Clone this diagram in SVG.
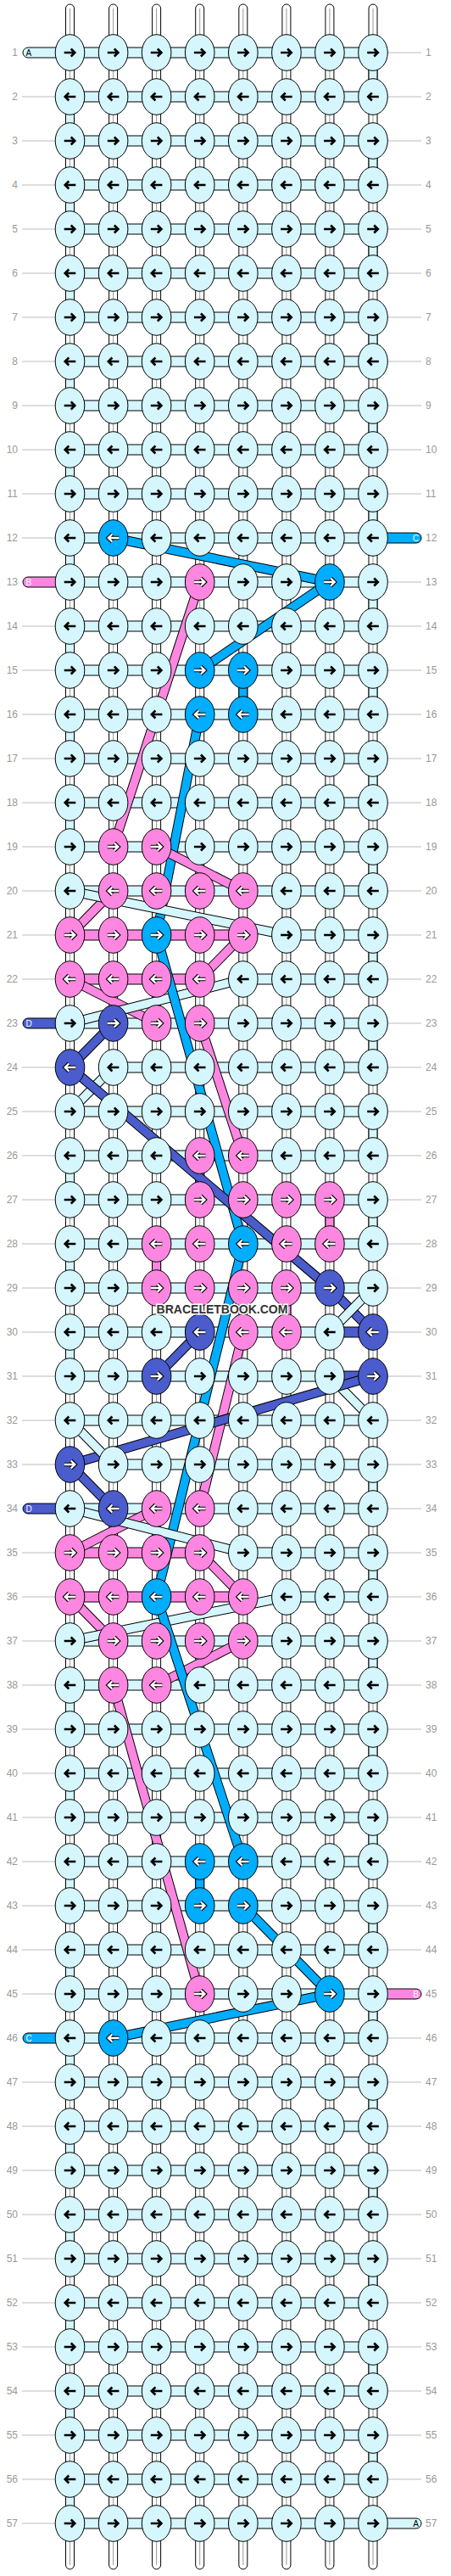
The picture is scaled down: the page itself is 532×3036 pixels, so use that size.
<svg xmlns="http://www.w3.org/2000/svg" width="532" height="3036" viewBox="0 0 532 3036">
<style>
.tube{fill:#fff;stroke:#000;stroke-width:1}
.tl{fill:none;stroke:#999;stroke-width:1}
.ol{stroke:#000;stroke-width:1}
.cy{fill:#d4f6fc}.pk{fill:#fd87e0}.bl{fill:#00adfe}.dk{fill:#4b5ccc}
.lo{fill:none;stroke:#000;stroke-width:11.5}
.lf{fill:none;stroke-width:9.5}
.sc{stroke:#d4f6fc}.sp{stroke:#fd87e0}.sb{stroke:#00adfe}.sd{stroke:#4b5ccc}
.ab{fill:none;stroke:#000;stroke-width:2.6}
.aw1{fill:none;stroke:#000;stroke-width:4.6}
.aw2{fill:none;stroke:#fff;stroke-width:2.4}
.gl{fill:none;stroke:#bbb;stroke-width:1}
.lb{font-family:"Liberation Sans",Arial,sans-serif;font-size:12px;fill:#999}
.le{text-anchor:end}
.st{font-family:"Liberation Sans",Arial,sans-serif;font-size:10px}
.wm{font-family:"Liberation Sans",Arial,sans-serif;font-weight:bold;font-size:14px;fill:#333;stroke:#fff;stroke-width:3;paint-order:stroke;text-anchor:middle}
</style>
<defs>
<path id="aR" d="M-6.8,0H5.6M1.2,-4.5L5.8,0L1.2,4.5"/>
<path id="aL" d="M6.8,0H-5.6M-1.2,-4.5L-5.8,0L-1.2,4.5"/>
<g id="cR"><ellipse class="ol cy" rx="17.3" ry="21.3"/><use href="#aR" class="ab"/></g>
<g id="cL"><ellipse class="ol cy" rx="17.3" ry="21.3"/><use href="#aL" class="ab"/></g>
<g id="pR"><ellipse class="ol pk" rx="17.3" ry="21.3"/><use href="#aR" class="aw1"/><use href="#aR" class="aw2"/></g>
<g id="pL"><ellipse class="ol pk" rx="17.3" ry="21.3"/><use href="#aL" class="aw1"/><use href="#aL" class="aw2"/></g>
<g id="bR"><ellipse class="ol bl" rx="17.3" ry="21.3"/><use href="#aR" class="aw1"/><use href="#aR" class="aw2"/></g>
<g id="bL"><ellipse class="ol bl" rx="17.3" ry="21.3"/><use href="#aL" class="aw1"/><use href="#aL" class="aw2"/></g>
<g id="dR"><ellipse class="ol dk" rx="17.3" ry="21.3"/><use href="#aR" class="aw1"/><use href="#aR" class="aw2"/></g>
<g id="dL"><ellipse class="ol dk" rx="17.3" ry="21.3"/><use href="#aL" class="aw1"/><use href="#aL" class="aw2"/></g>
</defs>
<rect width="532" height="3036" fill="#fff"/>
<g id="base-strands">
<rect class="tube" x="77.5" y="5" width="10" height="3023" rx="5"/>
<rect class="tube" x="128.6" y="5" width="10" height="3023" rx="5"/>
<rect class="tube" x="179.6" y="5" width="10" height="3023" rx="5"/>
<rect class="tube" x="230.7" y="5" width="10" height="3023" rx="5"/>
<rect class="tube" x="281.8" y="5" width="10" height="3023" rx="5"/>
<rect class="tube" x="332.9" y="5" width="10" height="3023" rx="5"/>
<rect class="tube" x="383.9" y="5" width="10" height="3023" rx="5"/>
<rect class="tube" x="435" y="5" width="10" height="3023" rx="5"/>
<path class="tl" d="M82.5,10V3023M133.6,10V3023M184.6,10V3023M235.7,10V3023M286.8,10V3023M337.9,10V3023M388.9,10V3023M440,10V3023"/>
</g>
<g id="row-lines">
<path class="gl" d="M26,114H65M26,166H65M26,218H65M26,270H65M26,322H65M26,374H65M26,426H65M26,478H65M26,530H65M26,582H65M26,634H65M26,738H65M26,790H65M26,842H65M26,894H65M26,946H65M26,998H65M26,1050H65M26,1102H65M26,1154H65M26,1258H65M26,1310H65M26,1362H65M26,1414H65M26,1466H65M26,1518H65M26,1570H65M26,1622H65M26,1674H65M26,1726H65M26,1830H65M26,1882H65M26,1934H65M26,1986H65M26,2038H65M26,2090H65M26,2142H65M26,2194H65M26,2246H65M26,2298H65M26,2350H65M26,2454H65M26,2506H65M26,2558H65M26,2610H65M26,2662H65M26,2714H65M26,2766H65M26,2818H65M26,2870H65M26,2922H65M26,2974H65"/>
<path class="gl" d="M458,62H497M458,114H497M458,166H497M458,218H497M458,270H497M458,322H497M458,374H497M458,426H497M458,478H497M458,530H497M458,582H497M458,686H497M458,738H497M458,790H497M458,842H497M458,894H497M458,946H497M458,998H497M458,1050H497M458,1102H497M458,1154H497M458,1206H497M458,1258H497M458,1310H497M458,1362H497M458,1414H497M458,1466H497M458,1518H497M458,1570H497M458,1622H497M458,1674H497M458,1726H497M458,1778H497M458,1830H497M458,1882H497M458,1934H497M458,1986H497M458,2038H497M458,2090H497M458,2142H497M458,2194H497M458,2246H497M458,2298H497M458,2402H497M458,2454H497M458,2506H497M458,2558H497M458,2610H497M458,2662H497M458,2714H497M458,2766H497M458,2818H497M458,2870H497M458,2922H497"/>
</g>
<g id="strand-ends">
<rect class="ol cy" x="27" y="56" width="50" height="12" rx="6"/>
<rect class="ol pk" x="27" y="680" width="50" height="12" rx="6"/>
<rect class="ol dk" x="27" y="1200" width="50" height="12" rx="6"/>
<rect class="ol dk" x="27" y="1772" width="50" height="12" rx="6"/>
<rect class="ol bl" x="27" y="2396" width="50" height="12" rx="6"/>
<rect class="ol bl" x="446" y="628" width="51" height="12" rx="6"/>
<rect class="ol pk" x="446" y="2344" width="51" height="12" rx="6"/>
<rect class="ol cy" x="446" y="2968" width="51" height="12" rx="6"/>
<text class="st" x="30.5" y="65.6" fill="#000">A</text>
<text class="st" x="30.5" y="689.6" fill="#fff">B</text>
<text class="st" x="30.5" y="1209.6" fill="#fff">D</text>
<text class="st" x="30.5" y="1781.6" fill="#fff">D</text>
<text class="st" x="30.5" y="2405.6" fill="#fff">C</text>
<text class="st le" x="494" y="637.6" fill="#fff">C</text>
<text class="st le" x="494" y="2353.6" fill="#fff">B</text>
<text class="st le" x="494" y="2977.6" fill="#000">A</text>
</g>
<g id="connectors">
<path class="ol cy" d="M82.5,56h357.5v12h-357.5zM82.5,108h357.5v12h-357.5zM82.5,160h357.5v12h-357.5zM82.5,212h357.5v12h-357.5zM82.5,264h357.5v12h-357.5zM82.5,316h357.5v12h-357.5zM82.5,368h357.5v12h-357.5zM82.5,420h357.5v12h-357.5zM82.5,472h357.5v12h-357.5zM82.5,524h357.5v12h-357.5zM82.5,576h357.5v12h-357.5zM82.5,628h357.5v12h-357.5zM82.5,680h357.5v12h-357.5zM82.5,732h357.5v12h-357.5zM82.5,784h357.5v12h-357.5zM82.5,836h357.5v12h-357.5zM82.5,888h357.5v12h-357.5zM82.5,940h357.5v12h-357.5zM82.5,992h357.5v12h-357.5zM82.5,1044h357.5v12h-357.5zM82.5,1200h357.5v12h-357.5zM82.5,1304h357.5v12h-357.5zM82.5,1356h357.5v12h-357.5zM82.5,1408h357.5v12h-357.5zM82.5,1460h357.5v12h-357.5zM82.5,1512h357.5v12h-357.5zM82.5,1668h357.5v12h-357.5zM82.5,1772h357.5v12h-357.5zM82.5,1928h357.5v12h-357.5zM82.5,1980h357.5v12h-357.5zM82.5,2032h357.5v12h-357.5zM82.5,2084h357.5v12h-357.5zM82.5,2136h357.5v12h-357.5zM82.5,2188h357.5v12h-357.5zM82.5,2240h357.5v12h-357.5zM82.5,2292h357.5v12h-357.5zM82.5,2344h357.5v12h-357.5zM82.5,2396h357.5v12h-357.5zM82.5,2448h357.5v12h-357.5zM82.5,2500h357.5v12h-357.5zM82.5,2552h357.5v12h-357.5zM82.5,2604h357.5v12h-357.5zM82.5,2656h357.5v12h-357.5zM82.5,2708h357.5v12h-357.5zM82.5,2760h357.5v12h-357.5zM82.5,2812h357.5v12h-357.5zM82.5,2864h357.5v12h-357.5zM82.5,2916h357.5v12h-357.5zM82.5,2968h357.5v12h-357.5z"/>
<path class="ol cy" d="M337.9,1096h102.1v12h-102.1zM286.8,1148h153.2v12h-153.2zM133.6,1252h306.4v12h-306.4zM82.5,1564h306.4v12h-306.4zM82.5,1616h306.4v12h-306.4zM133.6,1720h306.4v12h-306.4zM286.8,1824h153.2v12h-153.2zM337.9,1876h102.1v12h-102.1z"/>
<path class="ol pk" d="M82.5,1096h204.3v12h-204.3zM82.5,1148h153.2v12h-153.2zM82.5,1824h153.2v12h-153.2zM82.5,1876h204.3v12h-204.3z"/>
<path class="ol dk" d="M388.9,1564h51.1v12h-51.1zM388.9,1616h51.1v12h-51.1z"/>
<path class="ol cy" d="M435,78h10v20h-10zM435,182h10v20h-10zM435,286h10v20h-10zM435,390h10v20h-10zM435,494h10v20h-10zM435,598h10v20h-10zM435,702h10v20h-10zM435,806h10v20h-10zM435,910h10v20h-10zM435,1014h10v20h-10zM435,1118h10v20h-10zM435,1222h10v20h-10zM435,1326h10v20h-10zM435,1430h10v20h-10zM435,1742h10v20h-10zM435,1846h10v20h-10zM435,1950h10v20h-10zM435,2054h10v20h-10zM435,2158h10v20h-10zM435,2262h10v20h-10zM435,2366h10v20h-10zM435,2470h10v20h-10zM435,2574h10v20h-10zM435,2678h10v20h-10zM435,2782h10v20h-10zM435,2886h10v20h-10zM77.5,130h10v20h-10zM77.5,234h10v20h-10zM77.5,338h10v20h-10zM77.5,442h10v20h-10zM77.5,546h10v20h-10zM77.5,650h10v20h-10zM77.5,754h10v20h-10zM77.5,858h10v20h-10zM77.5,962h10v20h-10zM77.5,1378h10v20h-10zM77.5,1482h10v20h-10zM77.5,1586h10v20h-10zM77.5,2002h10v20h-10zM77.5,2106h10v20h-10zM77.5,2210h10v20h-10zM77.5,2314h10v20h-10zM77.5,2418h10v20h-10zM77.5,2522h10v20h-10zM77.5,2626h10v20h-10zM77.5,2730h10v20h-10zM77.5,2834h10v20h-10zM77.5,2938h10v20h-10z"/>
<path class="ol bl" d="M281.8,806h10v20h-10zM230.7,2210h10v20h-10z"/>
<path class="ol pk" d="M230.7,1378h10v20h-10zM383.9,1430h10v20h-10zM179.6,1482h10v20h-10zM332.9,1534h10v20h-10z"/>
<path class="lo" d="M133.6,634L388.9,686"/><path class="lf sb" d="M133.6,634L388.9,686"/>
<path class="lo" d="M388.9,686L235.7,790"/><path class="lf sb" d="M388.9,686L235.7,790"/>
<path class="lo" d="M235.7,686L133.6,998"/><path class="lf sp" d="M235.7,686L133.6,998"/>
<path class="lo" d="M235.7,842L184.6,1102"/><path class="lf sb" d="M235.7,842L184.6,1102"/>
<path class="lo" d="M184.6,998L286.8,1050"/><path class="lf sp" d="M184.6,998L286.8,1050"/>
<path class="lo" d="M133.6,1050L82.5,1102"/><path class="lf sp" d="M133.6,1050L82.5,1102"/>
<path class="lo" d="M82.5,1050L337.9,1102"/><path class="lf sc" d="M82.5,1050L337.9,1102"/>
<path class="lo" d="M286.8,1102L235.7,1154"/><path class="lf sp" d="M286.8,1102L235.7,1154"/>
<path class="lo" d="M82.5,1154L184.6,1206"/><path class="lf sp" d="M82.5,1154L184.6,1206"/>
<path class="lo" d="M286.8,1154L82.5,1206"/><path class="lf sc" d="M286.8,1154L82.5,1206"/>
<path class="lo" d="M235.7,1206L286.8,1362"/><path class="lf sp" d="M235.7,1206L286.8,1362"/>
<path class="lo" d="M184.6,1102L286.8,1466"/><path class="lf sb" d="M184.6,1102L286.8,1466"/>
<path class="lo" d="M133.6,1206L82.5,1258"/><path class="lf sd" d="M133.6,1206L82.5,1258"/>
<path class="lo" d="M133.6,1258L82.5,1310"/><path class="lf sc" d="M133.6,1258L82.5,1310"/>
<path class="lo" d="M82.5,1258L388.9,1518"/><path class="lf sd" d="M82.5,1258L388.9,1518"/>
<path class="lo" d="M388.9,1518L440,1570"/><path class="lf sd" d="M388.9,1518L440,1570"/>
<path class="lo" d="M440,1518L388.9,1570"/><path class="lf sc" d="M440,1518L388.9,1570"/>
<path class="lo" d="M235.7,1570L184.6,1622"/><path class="lf sd" d="M235.7,1570L184.6,1622"/>
<path class="lo" d="M286.8,1466L184.6,1882"/><path class="lf sb" d="M286.8,1466L184.6,1882"/>
<path class="lo" d="M286.8,1570L235.7,1778"/><path class="lf sp" d="M286.8,1570L235.7,1778"/>
<path class="lo" d="M388.9,1622L440,1674"/><path class="lf sc" d="M388.9,1622L440,1674"/>
<path class="lo" d="M440,1622L82.5,1726"/><path class="lf sd" d="M440,1622L82.5,1726"/>
<path class="lo" d="M82.5,1674L133.6,1726"/><path class="lf sc" d="M82.5,1674L133.6,1726"/>
<path class="lo" d="M82.5,1726L133.6,1778"/><path class="lf sd" d="M82.5,1726L133.6,1778"/>
<path class="lo" d="M184.6,1778L82.5,1830"/><path class="lf sp" d="M184.6,1778L82.5,1830"/>
<path class="lo" d="M82.5,1778L286.8,1830"/><path class="lf sc" d="M82.5,1778L286.8,1830"/>
<path class="lo" d="M235.7,1830L286.8,1882"/><path class="lf sp" d="M235.7,1830L286.8,1882"/>
<path class="lo" d="M82.5,1882L133.6,1934"/><path class="lf sp" d="M82.5,1882L133.6,1934"/>
<path class="lo" d="M337.9,1882L82.5,1934"/><path class="lf sc" d="M337.9,1882L82.5,1934"/>
<path class="lo" d="M286.8,1934L184.6,1986"/><path class="lf sp" d="M286.8,1934L184.6,1986"/>
<path class="lo" d="M184.6,1882L286.8,2194"/><path class="lf sb" d="M184.6,1882L286.8,2194"/>
<path class="lo" d="M133.6,1986L235.7,2350"/><path class="lf sp" d="M133.6,1986L235.7,2350"/>
<path class="lo" d="M286.8,2246L388.9,2350"/><path class="lf sb" d="M286.8,2246L388.9,2350"/>
<path class="lo" d="M388.9,2350L133.6,2402"/><path class="lf sb" d="M388.9,2350L133.6,2402"/>
</g>
<g id="knots">
<g id="k1-1"><use href="#cR" x="82.5" y="62"/></g><g id="k1-2"><use href="#cR" x="133.6" y="62"/></g><g id="k1-3"><use href="#cR" x="184.6" y="62"/></g><g id="k1-4"><use href="#cR" x="235.7" y="62"/></g><g id="k1-5"><use href="#cR" x="286.8" y="62"/></g><g id="k1-6"><use href="#cR" x="337.9" y="62"/></g><g id="k1-7"><use href="#cR" x="388.9" y="62"/></g><g id="k1-8"><use href="#cR" x="440" y="62"/></g>
<g id="k2-1"><use href="#cL" x="82.5" y="114"/></g><g id="k2-2"><use href="#cL" x="133.6" y="114"/></g><g id="k2-3"><use href="#cL" x="184.6" y="114"/></g><g id="k2-4"><use href="#cL" x="235.7" y="114"/></g><g id="k2-5"><use href="#cL" x="286.8" y="114"/></g><g id="k2-6"><use href="#cL" x="337.9" y="114"/></g><g id="k2-7"><use href="#cL" x="388.9" y="114"/></g><g id="k2-8"><use href="#cL" x="440" y="114"/></g>
<g id="k3-1"><use href="#cR" x="82.5" y="166"/></g><g id="k3-2"><use href="#cR" x="133.6" y="166"/></g><g id="k3-3"><use href="#cR" x="184.6" y="166"/></g><g id="k3-4"><use href="#cR" x="235.7" y="166"/></g><g id="k3-5"><use href="#cR" x="286.8" y="166"/></g><g id="k3-6"><use href="#cR" x="337.9" y="166"/></g><g id="k3-7"><use href="#cR" x="388.9" y="166"/></g><g id="k3-8"><use href="#cR" x="440" y="166"/></g>
<g id="k4-1"><use href="#cL" x="82.5" y="218"/></g><g id="k4-2"><use href="#cL" x="133.6" y="218"/></g><g id="k4-3"><use href="#cL" x="184.6" y="218"/></g><g id="k4-4"><use href="#cL" x="235.7" y="218"/></g><g id="k4-5"><use href="#cL" x="286.8" y="218"/></g><g id="k4-6"><use href="#cL" x="337.9" y="218"/></g><g id="k4-7"><use href="#cL" x="388.9" y="218"/></g><g id="k4-8"><use href="#cL" x="440" y="218"/></g>
<g id="k5-1"><use href="#cR" x="82.5" y="270"/></g><g id="k5-2"><use href="#cR" x="133.6" y="270"/></g><g id="k5-3"><use href="#cR" x="184.6" y="270"/></g><g id="k5-4"><use href="#cR" x="235.7" y="270"/></g><g id="k5-5"><use href="#cR" x="286.8" y="270"/></g><g id="k5-6"><use href="#cR" x="337.9" y="270"/></g><g id="k5-7"><use href="#cR" x="388.9" y="270"/></g><g id="k5-8"><use href="#cR" x="440" y="270"/></g>
<g id="k6-1"><use href="#cL" x="82.5" y="322"/></g><g id="k6-2"><use href="#cL" x="133.6" y="322"/></g><g id="k6-3"><use href="#cL" x="184.6" y="322"/></g><g id="k6-4"><use href="#cL" x="235.7" y="322"/></g><g id="k6-5"><use href="#cL" x="286.8" y="322"/></g><g id="k6-6"><use href="#cL" x="337.9" y="322"/></g><g id="k6-7"><use href="#cL" x="388.9" y="322"/></g><g id="k6-8"><use href="#cL" x="440" y="322"/></g>
<g id="k7-1"><use href="#cR" x="82.5" y="374"/></g><g id="k7-2"><use href="#cR" x="133.6" y="374"/></g><g id="k7-3"><use href="#cR" x="184.6" y="374"/></g><g id="k7-4"><use href="#cR" x="235.7" y="374"/></g><g id="k7-5"><use href="#cR" x="286.8" y="374"/></g><g id="k7-6"><use href="#cR" x="337.9" y="374"/></g><g id="k7-7"><use href="#cR" x="388.9" y="374"/></g><g id="k7-8"><use href="#cR" x="440" y="374"/></g>
<g id="k8-1"><use href="#cL" x="82.5" y="426"/></g><g id="k8-2"><use href="#cL" x="133.6" y="426"/></g><g id="k8-3"><use href="#cL" x="184.6" y="426"/></g><g id="k8-4"><use href="#cL" x="235.7" y="426"/></g><g id="k8-5"><use href="#cL" x="286.8" y="426"/></g><g id="k8-6"><use href="#cL" x="337.9" y="426"/></g><g id="k8-7"><use href="#cL" x="388.9" y="426"/></g><g id="k8-8"><use href="#cL" x="440" y="426"/></g>
<g id="k9-1"><use href="#cR" x="82.5" y="478"/></g><g id="k9-2"><use href="#cR" x="133.6" y="478"/></g><g id="k9-3"><use href="#cR" x="184.6" y="478"/></g><g id="k9-4"><use href="#cR" x="235.7" y="478"/></g><g id="k9-5"><use href="#cR" x="286.8" y="478"/></g><g id="k9-6"><use href="#cR" x="337.9" y="478"/></g><g id="k9-7"><use href="#cR" x="388.9" y="478"/></g><g id="k9-8"><use href="#cR" x="440" y="478"/></g>
<g id="k10-1"><use href="#cL" x="82.5" y="530"/></g><g id="k10-2"><use href="#cL" x="133.6" y="530"/></g><g id="k10-3"><use href="#cL" x="184.6" y="530"/></g><g id="k10-4"><use href="#cL" x="235.7" y="530"/></g><g id="k10-5"><use href="#cL" x="286.8" y="530"/></g><g id="k10-6"><use href="#cL" x="337.9" y="530"/></g><g id="k10-7"><use href="#cL" x="388.9" y="530"/></g><g id="k10-8"><use href="#cL" x="440" y="530"/></g>
<g id="k11-1"><use href="#cR" x="82.5" y="582"/></g><g id="k11-2"><use href="#cR" x="133.6" y="582"/></g><g id="k11-3"><use href="#cR" x="184.6" y="582"/></g><g id="k11-4"><use href="#cR" x="235.7" y="582"/></g><g id="k11-5"><use href="#cR" x="286.8" y="582"/></g><g id="k11-6"><use href="#cR" x="337.9" y="582"/></g><g id="k11-7"><use href="#cR" x="388.9" y="582"/></g><g id="k11-8"><use href="#cR" x="440" y="582"/></g>
<g id="k12-1"><use href="#cL" x="82.5" y="634"/></g><g id="k12-2"><use href="#bL" x="133.6" y="634"/></g><g id="k12-3"><use href="#cL" x="184.6" y="634"/></g><g id="k12-4"><use href="#cL" x="235.7" y="634"/></g><g id="k12-5"><use href="#cL" x="286.8" y="634"/></g><g id="k12-6"><use href="#cL" x="337.9" y="634"/></g><g id="k12-7"><use href="#cL" x="388.9" y="634"/></g><g id="k12-8"><use href="#cL" x="440" y="634"/></g>
<g id="k13-1"><use href="#cR" x="82.5" y="686"/></g><g id="k13-2"><use href="#cR" x="133.6" y="686"/></g><g id="k13-3"><use href="#cR" x="184.6" y="686"/></g><g id="k13-4"><use href="#pR" x="235.7" y="686"/></g><g id="k13-5"><use href="#cR" x="286.8" y="686"/></g><g id="k13-6"><use href="#cR" x="337.9" y="686"/></g><g id="k13-7"><use href="#bR" x="388.9" y="686"/></g><g id="k13-8"><use href="#cR" x="440" y="686"/></g>
<g id="k14-1"><use href="#cL" x="82.5" y="738"/></g><g id="k14-2"><use href="#cL" x="133.6" y="738"/></g><g id="k14-3"><use href="#cL" x="184.6" y="738"/></g><g id="k14-4"><use href="#cL" x="235.7" y="738"/></g><g id="k14-5"><use href="#cL" x="286.8" y="738"/></g><g id="k14-6"><use href="#cL" x="337.9" y="738"/></g><g id="k14-7"><use href="#cL" x="388.9" y="738"/></g><g id="k14-8"><use href="#cL" x="440" y="738"/></g>
<g id="k15-1"><use href="#cR" x="82.5" y="790"/></g><g id="k15-2"><use href="#cR" x="133.6" y="790"/></g><g id="k15-3"><use href="#cR" x="184.6" y="790"/></g><g id="k15-4"><use href="#bR" x="235.7" y="790"/></g><g id="k15-5"><use href="#bR" x="286.8" y="790"/></g><g id="k15-6"><use href="#cR" x="337.9" y="790"/></g><g id="k15-7"><use href="#cR" x="388.9" y="790"/></g><g id="k15-8"><use href="#cR" x="440" y="790"/></g>
<g id="k16-1"><use href="#cL" x="82.5" y="842"/></g><g id="k16-2"><use href="#cL" x="133.6" y="842"/></g><g id="k16-3"><use href="#cL" x="184.6" y="842"/></g><g id="k16-4"><use href="#bL" x="235.7" y="842"/></g><g id="k16-5"><use href="#bL" x="286.8" y="842"/></g><g id="k16-6"><use href="#cL" x="337.9" y="842"/></g><g id="k16-7"><use href="#cL" x="388.9" y="842"/></g><g id="k16-8"><use href="#cL" x="440" y="842"/></g>
<g id="k17-1"><use href="#cR" x="82.5" y="894"/></g><g id="k17-2"><use href="#cR" x="133.6" y="894"/></g><g id="k17-3"><use href="#cR" x="184.6" y="894"/></g><g id="k17-4"><use href="#cR" x="235.7" y="894"/></g><g id="k17-5"><use href="#cR" x="286.8" y="894"/></g><g id="k17-6"><use href="#cR" x="337.9" y="894"/></g><g id="k17-7"><use href="#cR" x="388.9" y="894"/></g><g id="k17-8"><use href="#cR" x="440" y="894"/></g>
<g id="k18-1"><use href="#cL" x="82.5" y="946"/></g><g id="k18-2"><use href="#cL" x="133.6" y="946"/></g><g id="k18-3"><use href="#cL" x="184.6" y="946"/></g><g id="k18-4"><use href="#cL" x="235.7" y="946"/></g><g id="k18-5"><use href="#cL" x="286.8" y="946"/></g><g id="k18-6"><use href="#cL" x="337.9" y="946"/></g><g id="k18-7"><use href="#cL" x="388.9" y="946"/></g><g id="k18-8"><use href="#cL" x="440" y="946"/></g>
<g id="k19-1"><use href="#cR" x="82.5" y="998"/></g><g id="k19-2"><use href="#pR" x="133.6" y="998"/></g><g id="k19-3"><use href="#pR" x="184.6" y="998"/></g><g id="k19-4"><use href="#cR" x="235.7" y="998"/></g><g id="k19-5"><use href="#cR" x="286.8" y="998"/></g><g id="k19-6"><use href="#cR" x="337.9" y="998"/></g><g id="k19-7"><use href="#cR" x="388.9" y="998"/></g><g id="k19-8"><use href="#cR" x="440" y="998"/></g>
<g id="k20-1"><use href="#cL" x="82.5" y="1050"/></g><g id="k20-2"><use href="#pL" x="133.6" y="1050"/></g><g id="k20-3"><use href="#pL" x="184.6" y="1050"/></g><g id="k20-4"><use href="#pL" x="235.7" y="1050"/></g><g id="k20-5"><use href="#pL" x="286.8" y="1050"/></g><g id="k20-6"><use href="#cL" x="337.9" y="1050"/></g><g id="k20-7"><use href="#cL" x="388.9" y="1050"/></g><g id="k20-8"><use href="#cL" x="440" y="1050"/></g>
<g id="k21-1"><use href="#pR" x="82.5" y="1102"/></g><g id="k21-2"><use href="#pR" x="133.6" y="1102"/></g><g id="k21-3"><use href="#bR" x="184.6" y="1102"/></g><g id="k21-4"><use href="#pR" x="235.7" y="1102"/></g><g id="k21-5"><use href="#pR" x="286.8" y="1102"/></g><g id="k21-6"><use href="#cR" x="337.9" y="1102"/></g><g id="k21-7"><use href="#cR" x="388.9" y="1102"/></g><g id="k21-8"><use href="#cR" x="440" y="1102"/></g>
<g id="k22-1"><use href="#pL" x="82.5" y="1154"/></g><g id="k22-2"><use href="#pL" x="133.6" y="1154"/></g><g id="k22-3"><use href="#pL" x="184.6" y="1154"/></g><g id="k22-4"><use href="#pL" x="235.7" y="1154"/></g><g id="k22-5"><use href="#cL" x="286.8" y="1154"/></g><g id="k22-6"><use href="#cL" x="337.9" y="1154"/></g><g id="k22-7"><use href="#cL" x="388.9" y="1154"/></g><g id="k22-8"><use href="#cL" x="440" y="1154"/></g>
<g id="k23-1"><use href="#cR" x="82.5" y="1206"/></g><g id="k23-2"><use href="#dR" x="133.6" y="1206"/></g><g id="k23-3"><use href="#pR" x="184.6" y="1206"/></g><g id="k23-4"><use href="#pR" x="235.7" y="1206"/></g><g id="k23-5"><use href="#cR" x="286.8" y="1206"/></g><g id="k23-6"><use href="#cR" x="337.9" y="1206"/></g><g id="k23-7"><use href="#cR" x="388.9" y="1206"/></g><g id="k23-8"><use href="#cR" x="440" y="1206"/></g>
<g id="k24-1"><use href="#dL" x="82.5" y="1258"/></g><g id="k24-2"><use href="#cL" x="133.6" y="1258"/></g><g id="k24-3"><use href="#cL" x="184.6" y="1258"/></g><g id="k24-4"><use href="#cL" x="235.7" y="1258"/></g><g id="k24-5"><use href="#cL" x="286.8" y="1258"/></g><g id="k24-6"><use href="#cL" x="337.9" y="1258"/></g><g id="k24-7"><use href="#cL" x="388.9" y="1258"/></g><g id="k24-8"><use href="#cL" x="440" y="1258"/></g>
<g id="k25-1"><use href="#cR" x="82.5" y="1310"/></g><g id="k25-2"><use href="#cR" x="133.6" y="1310"/></g><g id="k25-3"><use href="#cR" x="184.6" y="1310"/></g><g id="k25-4"><use href="#cR" x="235.7" y="1310"/></g><g id="k25-5"><use href="#cR" x="286.8" y="1310"/></g><g id="k25-6"><use href="#cR" x="337.9" y="1310"/></g><g id="k25-7"><use href="#cR" x="388.9" y="1310"/></g><g id="k25-8"><use href="#cR" x="440" y="1310"/></g>
<g id="k26-1"><use href="#cL" x="82.5" y="1362"/></g><g id="k26-2"><use href="#cL" x="133.6" y="1362"/></g><g id="k26-3"><use href="#cL" x="184.6" y="1362"/></g><g id="k26-4"><use href="#pL" x="235.7" y="1362"/></g><g id="k26-5"><use href="#pL" x="286.8" y="1362"/></g><g id="k26-6"><use href="#cL" x="337.9" y="1362"/></g><g id="k26-7"><use href="#cL" x="388.9" y="1362"/></g><g id="k26-8"><use href="#cL" x="440" y="1362"/></g>
<g id="k27-1"><use href="#cR" x="82.5" y="1414"/></g><g id="k27-2"><use href="#cR" x="133.6" y="1414"/></g><g id="k27-3"><use href="#cR" x="184.6" y="1414"/></g><g id="k27-4"><use href="#pR" x="235.7" y="1414"/></g><g id="k27-5"><use href="#pR" x="286.8" y="1414"/></g><g id="k27-6"><use href="#pR" x="337.9" y="1414"/></g><g id="k27-7"><use href="#pR" x="388.9" y="1414"/></g><g id="k27-8"><use href="#cR" x="440" y="1414"/></g>
<g id="k28-1"><use href="#cL" x="82.5" y="1466"/></g><g id="k28-2"><use href="#cL" x="133.6" y="1466"/></g><g id="k28-3"><use href="#pL" x="184.6" y="1466"/></g><g id="k28-4"><use href="#pL" x="235.7" y="1466"/></g><g id="k28-5"><use href="#bL" x="286.8" y="1466"/></g><g id="k28-6"><use href="#pL" x="337.9" y="1466"/></g><g id="k28-7"><use href="#pL" x="388.9" y="1466"/></g><g id="k28-8"><use href="#cL" x="440" y="1466"/></g>
<g id="k29-1"><use href="#cR" x="82.5" y="1518"/></g><g id="k29-2"><use href="#cR" x="133.6" y="1518"/></g><g id="k29-3"><use href="#pR" x="184.6" y="1518"/></g><g id="k29-4"><use href="#pR" x="235.7" y="1518"/></g><g id="k29-5"><use href="#pR" x="286.8" y="1518"/></g><g id="k29-6"><use href="#pR" x="337.9" y="1518"/></g><g id="k29-7"><use href="#dR" x="388.9" y="1518"/></g><g id="k29-8"><use href="#cR" x="440" y="1518"/></g>
<g id="k30-1"><use href="#cL" x="82.5" y="1570"/></g><g id="k30-2"><use href="#cL" x="133.6" y="1570"/></g><g id="k30-3"><use href="#cL" x="184.6" y="1570"/></g><g id="k30-4"><use href="#dL" x="235.7" y="1570"/></g><g id="k30-5"><use href="#pL" x="286.8" y="1570"/></g><g id="k30-6"><use href="#pL" x="337.9" y="1570"/></g><g id="k30-7"><use href="#cL" x="388.9" y="1570"/></g><g id="k30-8"><use href="#dL" x="440" y="1570"/></g>
<g id="k31-1"><use href="#cR" x="82.5" y="1622"/></g><g id="k31-2"><use href="#cR" x="133.6" y="1622"/></g><g id="k31-3"><use href="#dR" x="184.6" y="1622"/></g><g id="k31-4"><use href="#cR" x="235.7" y="1622"/></g><g id="k31-5"><use href="#cR" x="286.8" y="1622"/></g><g id="k31-6"><use href="#cR" x="337.9" y="1622"/></g><g id="k31-7"><use href="#cR" x="388.9" y="1622"/></g><g id="k31-8"><use href="#dR" x="440" y="1622"/></g>
<g id="k32-1"><use href="#cL" x="82.5" y="1674"/></g><g id="k32-2"><use href="#cL" x="133.6" y="1674"/></g><g id="k32-3"><use href="#cL" x="184.6" y="1674"/></g><g id="k32-4"><use href="#cL" x="235.7" y="1674"/></g><g id="k32-5"><use href="#cL" x="286.8" y="1674"/></g><g id="k32-6"><use href="#cL" x="337.9" y="1674"/></g><g id="k32-7"><use href="#cL" x="388.9" y="1674"/></g><g id="k32-8"><use href="#cL" x="440" y="1674"/></g>
<g id="k33-1"><use href="#dR" x="82.5" y="1726"/></g><g id="k33-2"><use href="#cR" x="133.6" y="1726"/></g><g id="k33-3"><use href="#cR" x="184.6" y="1726"/></g><g id="k33-4"><use href="#cR" x="235.7" y="1726"/></g><g id="k33-5"><use href="#cR" x="286.8" y="1726"/></g><g id="k33-6"><use href="#cR" x="337.9" y="1726"/></g><g id="k33-7"><use href="#cR" x="388.9" y="1726"/></g><g id="k33-8"><use href="#cR" x="440" y="1726"/></g>
<g id="k34-1"><use href="#cL" x="82.5" y="1778"/></g><g id="k34-2"><use href="#dL" x="133.6" y="1778"/></g><g id="k34-3"><use href="#pL" x="184.6" y="1778"/></g><g id="k34-4"><use href="#pL" x="235.7" y="1778"/></g><g id="k34-5"><use href="#cL" x="286.8" y="1778"/></g><g id="k34-6"><use href="#cL" x="337.9" y="1778"/></g><g id="k34-7"><use href="#cL" x="388.9" y="1778"/></g><g id="k34-8"><use href="#cL" x="440" y="1778"/></g>
<g id="k35-1"><use href="#pR" x="82.5" y="1830"/></g><g id="k35-2"><use href="#pR" x="133.6" y="1830"/></g><g id="k35-3"><use href="#pR" x="184.6" y="1830"/></g><g id="k35-4"><use href="#pR" x="235.7" y="1830"/></g><g id="k35-5"><use href="#cR" x="286.8" y="1830"/></g><g id="k35-6"><use href="#cR" x="337.9" y="1830"/></g><g id="k35-7"><use href="#cR" x="388.9" y="1830"/></g><g id="k35-8"><use href="#cR" x="440" y="1830"/></g>
<g id="k36-1"><use href="#pL" x="82.5" y="1882"/></g><g id="k36-2"><use href="#pL" x="133.6" y="1882"/></g><g id="k36-3"><use href="#bL" x="184.6" y="1882"/></g><g id="k36-4"><use href="#pL" x="235.7" y="1882"/></g><g id="k36-5"><use href="#pL" x="286.8" y="1882"/></g><g id="k36-6"><use href="#cL" x="337.9" y="1882"/></g><g id="k36-7"><use href="#cL" x="388.9" y="1882"/></g><g id="k36-8"><use href="#cL" x="440" y="1882"/></g>
<g id="k37-1"><use href="#cR" x="82.5" y="1934"/></g><g id="k37-2"><use href="#pR" x="133.6" y="1934"/></g><g id="k37-3"><use href="#pR" x="184.6" y="1934"/></g><g id="k37-4"><use href="#pR" x="235.7" y="1934"/></g><g id="k37-5"><use href="#pR" x="286.8" y="1934"/></g><g id="k37-6"><use href="#cR" x="337.9" y="1934"/></g><g id="k37-7"><use href="#cR" x="388.9" y="1934"/></g><g id="k37-8"><use href="#cR" x="440" y="1934"/></g>
<g id="k38-1"><use href="#cL" x="82.5" y="1986"/></g><g id="k38-2"><use href="#pL" x="133.6" y="1986"/></g><g id="k38-3"><use href="#pL" x="184.6" y="1986"/></g><g id="k38-4"><use href="#cL" x="235.7" y="1986"/></g><g id="k38-5"><use href="#cL" x="286.8" y="1986"/></g><g id="k38-6"><use href="#cL" x="337.9" y="1986"/></g><g id="k38-7"><use href="#cL" x="388.9" y="1986"/></g><g id="k38-8"><use href="#cL" x="440" y="1986"/></g>
<g id="k39-1"><use href="#cR" x="82.5" y="2038"/></g><g id="k39-2"><use href="#cR" x="133.6" y="2038"/></g><g id="k39-3"><use href="#cR" x="184.6" y="2038"/></g><g id="k39-4"><use href="#cR" x="235.7" y="2038"/></g><g id="k39-5"><use href="#cR" x="286.8" y="2038"/></g><g id="k39-6"><use href="#cR" x="337.9" y="2038"/></g><g id="k39-7"><use href="#cR" x="388.9" y="2038"/></g><g id="k39-8"><use href="#cR" x="440" y="2038"/></g>
<g id="k40-1"><use href="#cL" x="82.5" y="2090"/></g><g id="k40-2"><use href="#cL" x="133.6" y="2090"/></g><g id="k40-3"><use href="#cL" x="184.6" y="2090"/></g><g id="k40-4"><use href="#cL" x="235.7" y="2090"/></g><g id="k40-5"><use href="#cL" x="286.8" y="2090"/></g><g id="k40-6"><use href="#cL" x="337.9" y="2090"/></g><g id="k40-7"><use href="#cL" x="388.9" y="2090"/></g><g id="k40-8"><use href="#cL" x="440" y="2090"/></g>
<g id="k41-1"><use href="#cR" x="82.5" y="2142"/></g><g id="k41-2"><use href="#cR" x="133.6" y="2142"/></g><g id="k41-3"><use href="#cR" x="184.6" y="2142"/></g><g id="k41-4"><use href="#cR" x="235.7" y="2142"/></g><g id="k41-5"><use href="#cR" x="286.8" y="2142"/></g><g id="k41-6"><use href="#cR" x="337.9" y="2142"/></g><g id="k41-7"><use href="#cR" x="388.9" y="2142"/></g><g id="k41-8"><use href="#cR" x="440" y="2142"/></g>
<g id="k42-1"><use href="#cL" x="82.5" y="2194"/></g><g id="k42-2"><use href="#cL" x="133.6" y="2194"/></g><g id="k42-3"><use href="#cL" x="184.6" y="2194"/></g><g id="k42-4"><use href="#bL" x="235.7" y="2194"/></g><g id="k42-5"><use href="#bL" x="286.8" y="2194"/></g><g id="k42-6"><use href="#cL" x="337.9" y="2194"/></g><g id="k42-7"><use href="#cL" x="388.9" y="2194"/></g><g id="k42-8"><use href="#cL" x="440" y="2194"/></g>
<g id="k43-1"><use href="#cR" x="82.5" y="2246"/></g><g id="k43-2"><use href="#cR" x="133.6" y="2246"/></g><g id="k43-3"><use href="#cR" x="184.6" y="2246"/></g><g id="k43-4"><use href="#bR" x="235.7" y="2246"/></g><g id="k43-5"><use href="#bR" x="286.8" y="2246"/></g><g id="k43-6"><use href="#cR" x="337.9" y="2246"/></g><g id="k43-7"><use href="#cR" x="388.9" y="2246"/></g><g id="k43-8"><use href="#cR" x="440" y="2246"/></g>
<g id="k44-1"><use href="#cL" x="82.5" y="2298"/></g><g id="k44-2"><use href="#cL" x="133.6" y="2298"/></g><g id="k44-3"><use href="#cL" x="184.6" y="2298"/></g><g id="k44-4"><use href="#cL" x="235.7" y="2298"/></g><g id="k44-5"><use href="#cL" x="286.8" y="2298"/></g><g id="k44-6"><use href="#cL" x="337.9" y="2298"/></g><g id="k44-7"><use href="#cL" x="388.9" y="2298"/></g><g id="k44-8"><use href="#cL" x="440" y="2298"/></g>
<g id="k45-1"><use href="#cR" x="82.5" y="2350"/></g><g id="k45-2"><use href="#cR" x="133.6" y="2350"/></g><g id="k45-3"><use href="#cR" x="184.6" y="2350"/></g><g id="k45-4"><use href="#pR" x="235.7" y="2350"/></g><g id="k45-5"><use href="#cR" x="286.8" y="2350"/></g><g id="k45-6"><use href="#cR" x="337.9" y="2350"/></g><g id="k45-7"><use href="#bR" x="388.9" y="2350"/></g><g id="k45-8"><use href="#cR" x="440" y="2350"/></g>
<g id="k46-1"><use href="#cL" x="82.5" y="2402"/></g><g id="k46-2"><use href="#bL" x="133.6" y="2402"/></g><g id="k46-3"><use href="#cL" x="184.6" y="2402"/></g><g id="k46-4"><use href="#cL" x="235.7" y="2402"/></g><g id="k46-5"><use href="#cL" x="286.8" y="2402"/></g><g id="k46-6"><use href="#cL" x="337.9" y="2402"/></g><g id="k46-7"><use href="#cL" x="388.9" y="2402"/></g><g id="k46-8"><use href="#cL" x="440" y="2402"/></g>
<g id="k47-1"><use href="#cR" x="82.5" y="2454"/></g><g id="k47-2"><use href="#cR" x="133.6" y="2454"/></g><g id="k47-3"><use href="#cR" x="184.6" y="2454"/></g><g id="k47-4"><use href="#cR" x="235.7" y="2454"/></g><g id="k47-5"><use href="#cR" x="286.8" y="2454"/></g><g id="k47-6"><use href="#cR" x="337.9" y="2454"/></g><g id="k47-7"><use href="#cR" x="388.9" y="2454"/></g><g id="k47-8"><use href="#cR" x="440" y="2454"/></g>
<g id="k48-1"><use href="#cL" x="82.5" y="2506"/></g><g id="k48-2"><use href="#cL" x="133.6" y="2506"/></g><g id="k48-3"><use href="#cL" x="184.6" y="2506"/></g><g id="k48-4"><use href="#cL" x="235.7" y="2506"/></g><g id="k48-5"><use href="#cL" x="286.8" y="2506"/></g><g id="k48-6"><use href="#cL" x="337.9" y="2506"/></g><g id="k48-7"><use href="#cL" x="388.9" y="2506"/></g><g id="k48-8"><use href="#cL" x="440" y="2506"/></g>
<g id="k49-1"><use href="#cR" x="82.5" y="2558"/></g><g id="k49-2"><use href="#cR" x="133.6" y="2558"/></g><g id="k49-3"><use href="#cR" x="184.6" y="2558"/></g><g id="k49-4"><use href="#cR" x="235.7" y="2558"/></g><g id="k49-5"><use href="#cR" x="286.8" y="2558"/></g><g id="k49-6"><use href="#cR" x="337.9" y="2558"/></g><g id="k49-7"><use href="#cR" x="388.9" y="2558"/></g><g id="k49-8"><use href="#cR" x="440" y="2558"/></g>
<g id="k50-1"><use href="#cL" x="82.5" y="2610"/></g><g id="k50-2"><use href="#cL" x="133.6" y="2610"/></g><g id="k50-3"><use href="#cL" x="184.6" y="2610"/></g><g id="k50-4"><use href="#cL" x="235.7" y="2610"/></g><g id="k50-5"><use href="#cL" x="286.8" y="2610"/></g><g id="k50-6"><use href="#cL" x="337.9" y="2610"/></g><g id="k50-7"><use href="#cL" x="388.9" y="2610"/></g><g id="k50-8"><use href="#cL" x="440" y="2610"/></g>
<g id="k51-1"><use href="#cR" x="82.5" y="2662"/></g><g id="k51-2"><use href="#cR" x="133.6" y="2662"/></g><g id="k51-3"><use href="#cR" x="184.6" y="2662"/></g><g id="k51-4"><use href="#cR" x="235.7" y="2662"/></g><g id="k51-5"><use href="#cR" x="286.8" y="2662"/></g><g id="k51-6"><use href="#cR" x="337.9" y="2662"/></g><g id="k51-7"><use href="#cR" x="388.9" y="2662"/></g><g id="k51-8"><use href="#cR" x="440" y="2662"/></g>
<g id="k52-1"><use href="#cL" x="82.5" y="2714"/></g><g id="k52-2"><use href="#cL" x="133.6" y="2714"/></g><g id="k52-3"><use href="#cL" x="184.6" y="2714"/></g><g id="k52-4"><use href="#cL" x="235.7" y="2714"/></g><g id="k52-5"><use href="#cL" x="286.8" y="2714"/></g><g id="k52-6"><use href="#cL" x="337.9" y="2714"/></g><g id="k52-7"><use href="#cL" x="388.9" y="2714"/></g><g id="k52-8"><use href="#cL" x="440" y="2714"/></g>
<g id="k53-1"><use href="#cR" x="82.5" y="2766"/></g><g id="k53-2"><use href="#cR" x="133.6" y="2766"/></g><g id="k53-3"><use href="#cR" x="184.6" y="2766"/></g><g id="k53-4"><use href="#cR" x="235.7" y="2766"/></g><g id="k53-5"><use href="#cR" x="286.8" y="2766"/></g><g id="k53-6"><use href="#cR" x="337.9" y="2766"/></g><g id="k53-7"><use href="#cR" x="388.9" y="2766"/></g><g id="k53-8"><use href="#cR" x="440" y="2766"/></g>
<g id="k54-1"><use href="#cL" x="82.5" y="2818"/></g><g id="k54-2"><use href="#cL" x="133.6" y="2818"/></g><g id="k54-3"><use href="#cL" x="184.6" y="2818"/></g><g id="k54-4"><use href="#cL" x="235.7" y="2818"/></g><g id="k54-5"><use href="#cL" x="286.8" y="2818"/></g><g id="k54-6"><use href="#cL" x="337.9" y="2818"/></g><g id="k54-7"><use href="#cL" x="388.9" y="2818"/></g><g id="k54-8"><use href="#cL" x="440" y="2818"/></g>
<g id="k55-1"><use href="#cR" x="82.5" y="2870"/></g><g id="k55-2"><use href="#cR" x="133.6" y="2870"/></g><g id="k55-3"><use href="#cR" x="184.6" y="2870"/></g><g id="k55-4"><use href="#cR" x="235.7" y="2870"/></g><g id="k55-5"><use href="#cR" x="286.8" y="2870"/></g><g id="k55-6"><use href="#cR" x="337.9" y="2870"/></g><g id="k55-7"><use href="#cR" x="388.9" y="2870"/></g><g id="k55-8"><use href="#cR" x="440" y="2870"/></g>
<g id="k56-1"><use href="#cL" x="82.5" y="2922"/></g><g id="k56-2"><use href="#cL" x="133.6" y="2922"/></g><g id="k56-3"><use href="#cL" x="184.6" y="2922"/></g><g id="k56-4"><use href="#cL" x="235.7" y="2922"/></g><g id="k56-5"><use href="#cL" x="286.8" y="2922"/></g><g id="k56-6"><use href="#cL" x="337.9" y="2922"/></g><g id="k56-7"><use href="#cL" x="388.9" y="2922"/></g><g id="k56-8"><use href="#cL" x="440" y="2922"/></g>
<g id="k57-1"><use href="#cR" x="82.5" y="2974"/></g><g id="k57-2"><use href="#cR" x="133.6" y="2974"/></g><g id="k57-3"><use href="#cR" x="184.6" y="2974"/></g><g id="k57-4"><use href="#cR" x="235.7" y="2974"/></g><g id="k57-5"><use href="#cR" x="286.8" y="2974"/></g><g id="k57-6"><use href="#cR" x="337.9" y="2974"/></g><g id="k57-7"><use href="#cR" x="388.9" y="2974"/></g><g id="k57-8"><use href="#cR" x="440" y="2974"/></g>
</g>
<g id="row-numbers" class="lb">
<text class="le" x="21" y="66.3">1</text><text class="le" x="21" y="118.3">2</text><text class="le" x="21" y="170.3">3</text><text class="le" x="21" y="222.3">4</text><text class="le" x="21" y="274.3">5</text><text class="le" x="21" y="326.3">6</text><text class="le" x="21" y="378.3">7</text><text class="le" x="21" y="430.3">8</text><text class="le" x="21" y="482.3">9</text><text class="le" x="21" y="534.3">10</text><text class="le" x="21" y="586.3">11</text><text class="le" x="21" y="638.3">12</text><text class="le" x="21" y="690.3">13</text><text class="le" x="21" y="742.3">14</text><text class="le" x="21" y="794.3">15</text><text class="le" x="21" y="846.3">16</text><text class="le" x="21" y="898.3">17</text><text class="le" x="21" y="950.3">18</text><text class="le" x="21" y="1002.3">19</text><text class="le" x="21" y="1054.3">20</text><text class="le" x="21" y="1106.3">21</text><text class="le" x="21" y="1158.3">22</text><text class="le" x="21" y="1210.3">23</text><text class="le" x="21" y="1262.3">24</text><text class="le" x="21" y="1314.3">25</text><text class="le" x="21" y="1366.3">26</text><text class="le" x="21" y="1418.3">27</text><text class="le" x="21" y="1470.3">28</text><text class="le" x="21" y="1522.3">29</text><text class="le" x="21" y="1574.3">30</text><text class="le" x="21" y="1626.3">31</text><text class="le" x="21" y="1678.3">32</text><text class="le" x="21" y="1730.3">33</text><text class="le" x="21" y="1782.3">34</text><text class="le" x="21" y="1834.3">35</text><text class="le" x="21" y="1886.3">36</text><text class="le" x="21" y="1938.3">37</text><text class="le" x="21" y="1990.3">38</text><text class="le" x="21" y="2042.3">39</text><text class="le" x="21" y="2094.3">40</text><text class="le" x="21" y="2146.3">41</text><text class="le" x="21" y="2198.3">42</text><text class="le" x="21" y="2250.3">43</text><text class="le" x="21" y="2302.3">44</text><text class="le" x="21" y="2354.3">45</text><text class="le" x="21" y="2406.3">46</text><text class="le" x="21" y="2458.3">47</text><text class="le" x="21" y="2510.3">48</text><text class="le" x="21" y="2562.3">49</text><text class="le" x="21" y="2614.3">50</text><text class="le" x="21" y="2666.3">51</text><text class="le" x="21" y="2718.3">52</text><text class="le" x="21" y="2770.3">53</text><text class="le" x="21" y="2822.3">54</text><text class="le" x="21" y="2874.3">55</text><text class="le" x="21" y="2926.3">56</text><text class="le" x="21" y="2978.3">57</text>
<text x="502" y="66.3">1</text><text x="502" y="118.3">2</text><text x="502" y="170.3">3</text><text x="502" y="222.3">4</text><text x="502" y="274.3">5</text><text x="502" y="326.3">6</text><text x="502" y="378.3">7</text><text x="502" y="430.3">8</text><text x="502" y="482.3">9</text><text x="502" y="534.3">10</text><text x="502" y="586.3">11</text><text x="502" y="638.3">12</text><text x="502" y="690.3">13</text><text x="502" y="742.3">14</text><text x="502" y="794.3">15</text><text x="502" y="846.3">16</text><text x="502" y="898.3">17</text><text x="502" y="950.3">18</text><text x="502" y="1002.3">19</text><text x="502" y="1054.3">20</text><text x="502" y="1106.3">21</text><text x="502" y="1158.3">22</text><text x="502" y="1210.3">23</text><text x="502" y="1262.3">24</text><text x="502" y="1314.3">25</text><text x="502" y="1366.3">26</text><text x="502" y="1418.3">27</text><text x="502" y="1470.3">28</text><text x="502" y="1522.3">29</text><text x="502" y="1574.3">30</text><text x="502" y="1626.3">31</text><text x="502" y="1678.3">32</text><text x="502" y="1730.3">33</text><text x="502" y="1782.3">34</text><text x="502" y="1834.3">35</text><text x="502" y="1886.3">36</text><text x="502" y="1938.3">37</text><text x="502" y="1990.3">38</text><text x="502" y="2042.3">39</text><text x="502" y="2094.3">40</text><text x="502" y="2146.3">41</text><text x="502" y="2198.3">42</text><text x="502" y="2250.3">43</text><text x="502" y="2302.3">44</text><text x="502" y="2354.3">45</text><text x="502" y="2406.3">46</text><text x="502" y="2458.3">47</text><text x="502" y="2510.3">48</text><text x="502" y="2562.3">49</text><text x="502" y="2614.3">50</text><text x="502" y="2666.3">51</text><text x="502" y="2718.3">52</text><text x="502" y="2770.3">53</text><text x="502" y="2822.3">54</text><text x="502" y="2874.3">55</text><text x="502" y="2926.3">56</text><text x="502" y="2978.3">57</text>
</g>
<text class="wm" x="262" y="1548">BRACELETBOOK.COM</text>
</svg>
